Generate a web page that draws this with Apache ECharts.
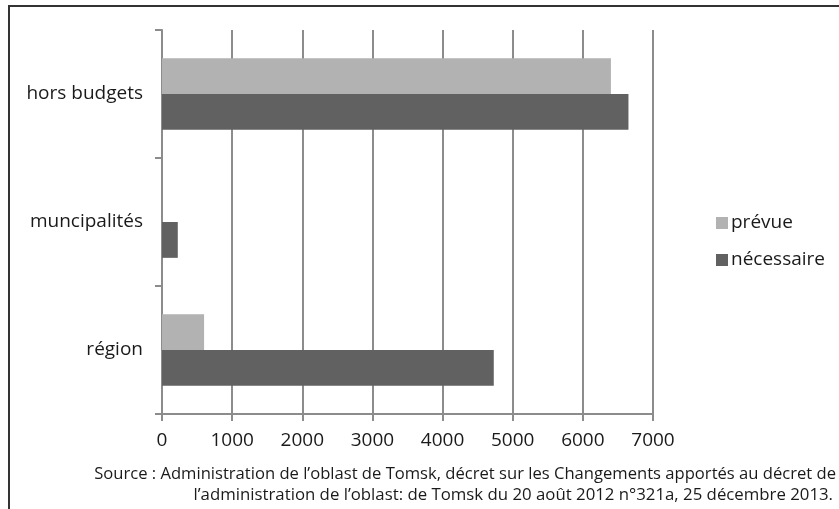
<!DOCTYPE html>
<html>
<head>
<meta charset="utf-8">
<script src="https://cdn.jsdelivr.net/npm/echarts@6/dist/echarts.min.js"></script>
<style>
html,body{margin:0;padding:0;background:#fff;}
#bar{width:839px;height:509px;}
</style>
</head>
<body>
<div id="bar"></div>
<script>
var categories = ['région', 'muncipalités', 'hors budgets'];
var prevue = [600, 0, 6400];
var necessaire = [4730, 225, 6650];
var xTicks = [0, 1000, 2000, 3000, 4000, 5000, 6000, 7000];
var sourceLines = [
	'Source : Administration de l\u2019oblast de Tomsk, décret sur les Changements apportés au décret de',
	'l\u2019administration de l\u2019oblast: de Tomsk du 20 août 2012 n°321a, 25 décembre 2013.'
];

var fontFam = '"Open Sans", Lato, sans-serif';
var gridColor = '#8c8c8c';

var myChart_1 = echarts.init(document.getElementById('bar'));
var option = {
	animation: false,
	color: ['#b2b2b2', '#616161'],
	grid: {
		left: 162,
		right: 186,
		top: 30,
		bottom: 95,
		containLabel: false
	},
	legend: {
		orient: 'vertical',
		left: 711,
		top: 207,
		icon: 'rect',
		itemWidth: 12,
		itemHeight: 12,
		itemGap: 15,
		data: ['prévue', 'nécessaire'],
		textStyle: {fontFamily: fontFam, fontSize: 19, color: '#1a1a1a', padding: [0, 0, 0, -2], lineHeight: 22}
	},
	xAxis: {
		type: 'value',
		min: xTicks[0],
		max: xTicks[xTicks.length - 1],
		interval: 1000,
		axisLine: {show: true, lineStyle: {color: gridColor, width: 2}},
		axisTick: {show: true, length: 7, lineStyle: {color: gridColor, width: 2}},
		splitLine: {show: true, lineStyle: {color: gridColor, width: 2}},
		axisLabel: {margin: 17, fontFamily: fontFam, fontSize: 19, color: '#1a1a1a',
			formatter: function (v) { return String(v); }}
	},
	yAxis: {
		type: 'category',
		data: categories,
		axisLine: {show: true, lineStyle: {color: gridColor, width: 2}},
		axisTick: {show: true, length: 7, lineStyle: {color: gridColor, width: 2}},
		axisLabel: {margin: 19, fontFamily: fontFam, fontSize: 19, color: '#1a1a1a'}
	},
	series: [
		{
			name: 'prévue',
			type: 'bar',
			barGap: '0%',
			barCategoryGap: '44%',
			data: prevue
		},
		{
			name: 'nécessaire',
			type: 'bar',
			barGap: '0%',
			barCategoryGap: '44%',
			data: necessaire
		}
	],
	graphic: [
		{
			type: 'polyline',
			shape: {points: [[9, 509], [9, 6], [839, 6]]},
			style: {stroke: '#333', lineWidth: 2, fill: null}
		},
		{
			type: 'text',
			style: {text: sourceLines[0], x: 836, y: 474, fontFamily: fontFam, fontSize: 16.6, fill: '#1a1a1a', align: 'right', verticalAlign: 'middle'}
		},
		{
			type: 'text',
			style: {text: sourceLines[1], x: 833, y: 495, fontFamily: fontFam, fontSize: 16.8, fill: '#1a1a1a', align: 'right', verticalAlign: 'middle'}
		}
	]
};
myChart_1.setOption(option);
</script>
</body>
</html>
